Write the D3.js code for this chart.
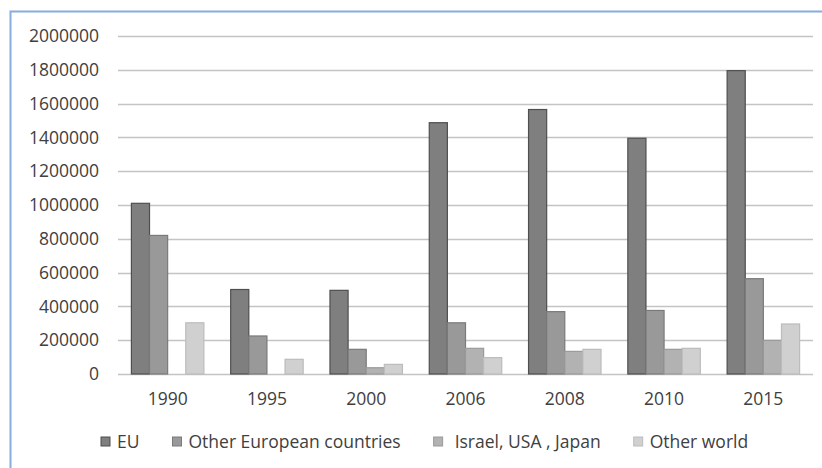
<!DOCTYPE html>
<html>
<head>
<meta charset="utf-8">
<script src="https://cdn.jsdelivr.net/npm/d3@7"></script>
<style>
  body { margin: 0; background: #fff; }
  svg text { font-family: "Open Sans", "Liberation Sans", sans-serif; fill: #404040; }
</style>
</head>
<body>
<div id="chart"></div>
<script>
// values
var years = ["1990", "1995", "2000", "2006", "2008", "2010", "2015"]
var eu = [1010000, 500000, 495000, 1487000, 1565000, 1395000, 1795000]
var otherEurope = [820000, 225000, 146000, 303000, 369000, 376000, 564000]
var israelUsaJapan = [0, 0, 37000, 152000, 134000, 146000, 199000]
var otherWorld = [303000, 87000, 57000, 97000, 146000, 152000, 296000]
var seriesNames = ["EU", "Other European countries", "Israel, USA , Japan", "Other world"]
var yTicks = [0, 200000, 400000, 600000, 800000, 1000000, 1200000, 1400000, 1600000, 1800000, 2000000]

var seriesValues = [eu, otherEurope, israelUsaJapan, otherWorld]
var fills = ["#7f7f7f", "#999999", "#b2b2b2", "#d0d0d0"]
var strokes = ["#4f4f4f", "#7a7a7a", "#9a9a9a", "#bcbcbc"]

var width = 822, height = 468
var plot = { left: 118, right: 813, top: 36, bottom: 374 }

var svg = d3.select("#chart")
    .append("svg")
    .attr("width", width)
    .attr("height", height)

// chart frame (only top and left edges show in the picture)
svg.append("rect")
    .attr("x", 10.5)
    .attr("y", 11.5)
    .attr("width", 840)
    .attr("height", 480)
    .attr("fill", "none")
    .attr("stroke", "#84aedb")
    .attr("stroke-width", 2)

var x = d3.scaleBand()
    .domain(years)
    .range([plot.left, plot.right])
    .paddingInner(0.27)
    .paddingOuter(0.135)

var xs = d3.scaleBand()
    .domain(d3.range(seriesNames.length))
    .range([0, x.bandwidth()])

var y = d3.scaleLinear()
    .domain([0, 2000000])
    .range([plot.bottom, plot.top])

// gridlines
svg.append("g")
    .selectAll("line")
    .data(yTicks)
    .enter()
    .append("line")
    .attr("x1", plot.left)
    .attr("x2", plot.right)
    .attr("y1", function (d) { return Math.round(y(d)) + 0.5 })
    .attr("y2", function (d) { return Math.round(y(d)) + 0.5 })
    .attr("stroke", "#c4c4c4")
    .attr("stroke-width", 1.5)

// y labels
var yAxis = svg.append("g")
    .attr("transform", "translate(" + (plot.left - 19) + ",0)")
    .call(d3.axisLeft(y).tickValues(yTicks).tickSize(0).tickPadding(0).tickFormat(d3.format("d")))
yAxis.select(".domain").remove()
yAxis.selectAll("text")
    .style("font-size", "17.5px")
    .style("font-family", "\"Open Sans\", sans-serif")
    .attr("fill", "#404040")

// x labels
var xAxis = svg.append("g")
    .attr("transform", "translate(0," + plot.bottom + ")")
    .call(d3.axisBottom(x).tickSize(0).tickPadding(19))
xAxis.select(".domain").remove()
xAxis.selectAll("text")
    .style("font-size", "17.5px")
    .style("font-family", "\"Open Sans\", sans-serif")
    .attr("fill", "#404040")

// bars
var rows = []
for (var i = 0; i < years.length; i++) {
    for (var s = 0; s < seriesNames.length; s++) {
        rows.push({ year: years[i], s: s, value: seriesValues[s][i] })
    }
}

svg.append("g")
    .selectAll("rect")
    .data(rows.filter(function (d) { return d.value > 0 }))
    .enter()
    .append("rect")
    .attr("x", function (d) { return x(d.year) + xs(d.s) })
    .attr("y", function (d) { return y(d.value) })
    .attr("width", xs.bandwidth())
    .attr("height", function (d) { return y(0) - y(d.value) })
    .attr("fill", function (d) { return fills[d.s] })
    .attr("stroke", function (d) { return strokes[d.s] })
    .attr("stroke-width", 1.2)

// legend
var legend = svg.append("g").attr("transform", "translate(101,0)")
var lx = 0
var extraGap = [0, 0, 5, 0]
for (var s = 0; s < seriesNames.length; s++) {
    legend.append("rect")
        .attr("x", lx)
        .attr("y", 437)
        .attr("width", 9)
        .attr("height", 9)
        .attr("fill", fills[s])
        .attr("stroke", strokes[s])
    var t = legend.append("text")
        .attr("x", lx + 16 + extraGap[s])
        .attr("y", 448)
        .style("font-size", "17.5px")
        .text(seriesNames[s])
    lx = lx + 16 + extraGap[s] + t.node().getComputedTextLength() + 33
}
</script>
</body>
</html>
